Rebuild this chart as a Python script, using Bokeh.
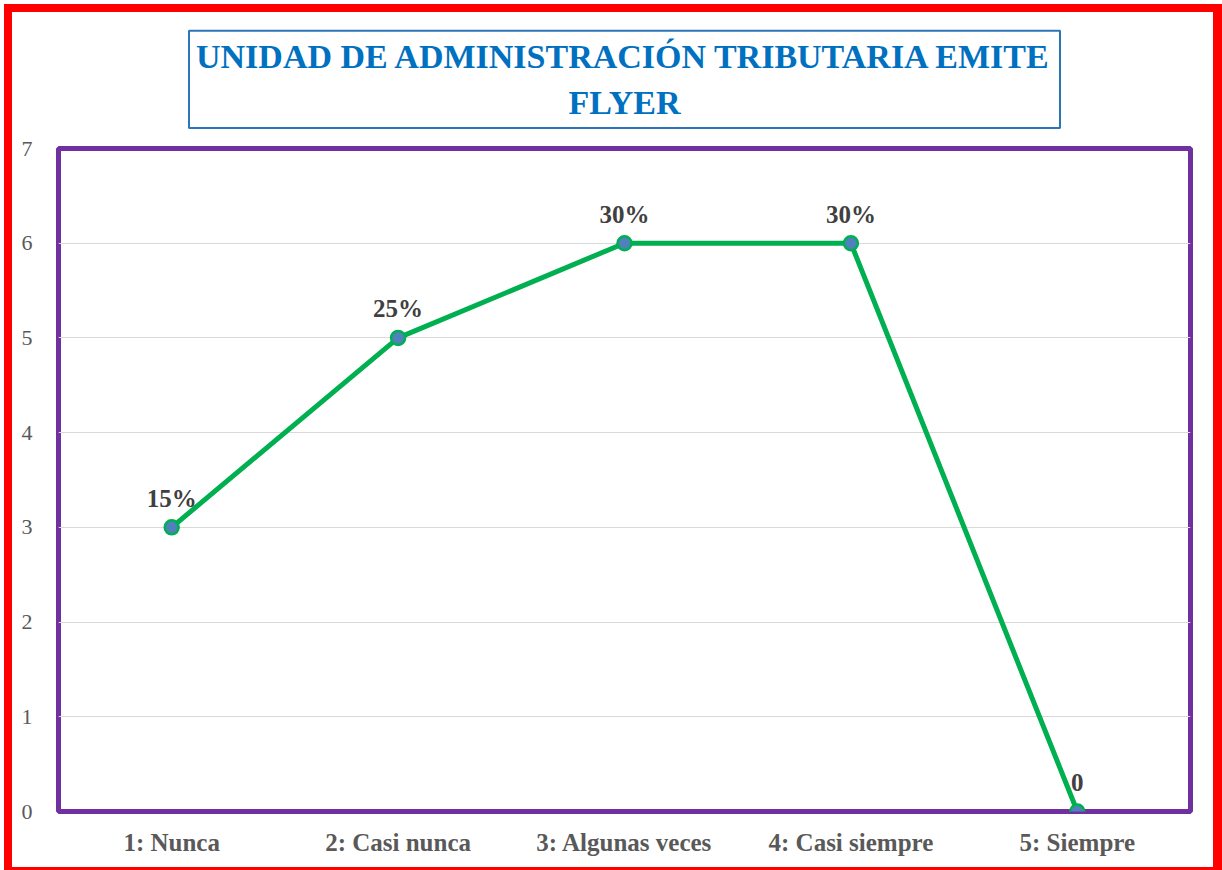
from bokeh.plotting import figure
from bokeh.models import Range1d, FactorRange, Title, ColumnDataSource
from bokeh.core.properties import value
from bokeh.embed import file_html
from bokeh.resources import INLINE

categories = ["1: Nunca", "2: Casi nunca", "3: Algunas veces", "4: Casi siempre", "5: Siempre"]
counts = [3, 5, 6, 6, 0]
labels = ["15%", "25%", "30%", "30%", "0"]
title_text = "UNIDAD DE ADMINISTRACIÓN TRIBUTARIA EMITE\nFLYER"
y_ticks = [0, 1, 2, 3, 4, 5, 6, 7]

W, H = 1222, 870

p = figure(width=W, height=H, x_range=FactorRange(*categories, range_padding=0),
           y_range=Range1d(0, 7), output_backend="svg", toolbar_location=None,
           min_border_left=58, min_border_right=32, min_border_top=148, min_border_bottom=59)
p.background_fill_color = "white"
p.border_fill_color = "white"
p.border_fill_alpha = 0
p.outline_line_color = "#7030A0"
p.outline_line_width = 5
p.styles = {"background-color": "white",
            "box-shadow": "inset 4px 4px 0 0 white, inset 12px 12px 0 0 #FF0000, "
                          "inset -9px -3px 0 0 #FF0000"}

# grid
p.xgrid.grid_line_color = None
p.ygrid.grid_line_color = "#D9D9D9"
p.ygrid.grid_line_width = 1
p.yaxis.ticker = y_ticks

# axes
for ax in (p.xaxis[0], p.yaxis[0]):
    ax.axis_line_color = None
    ax.major_tick_line_color = None
    ax.minor_tick_line_color = None
    ax.major_label_text_font = "Liberation Serif"
    ax.major_label_text_color = "#595959"
p.yaxis.major_label_text_font_size = "22px"
p.yaxis.major_label_standoff = 20
p.xaxis.major_label_text_font_size = "25px"
p.xaxis.major_label_text_font_style = "bold"
p.xaxis.major_label_standoff = 11

src = ColumnDataSource(dict(x=categories, y=counts, lab=labels))
p.line("x", "y", source=src, line_color="#00B050", line_width=5)
p.scatter("x", "y", source=src, size=14, fill_color="#4F81BD", line_color="#00B050", line_width=2.5)
p.text("x", "y", text="lab", source=src, y_offset=-29, text_align="center",
       text_baseline="alphabetic", text_font=value("Liberation Serif"), text_font_style="bold",
       text_font_size="25px", text_color="#404040")

t = Title(text=title_text, align="center", text_font="Liberation Serif",
          text_font_style="bold", text_font_size="34px", text_color="#0070C0",
          text_line_height=1.25,
          background_fill_color="white", border_line_color="#2E75B6", border_line_width=2,
          padding=7, standoff=41, offset=5)
if "text_align" in Title.properties():
    t.text_align = "center"
p.add_layout(t, "above")

open("out.html", "w").write(file_html(p, INLINE))
